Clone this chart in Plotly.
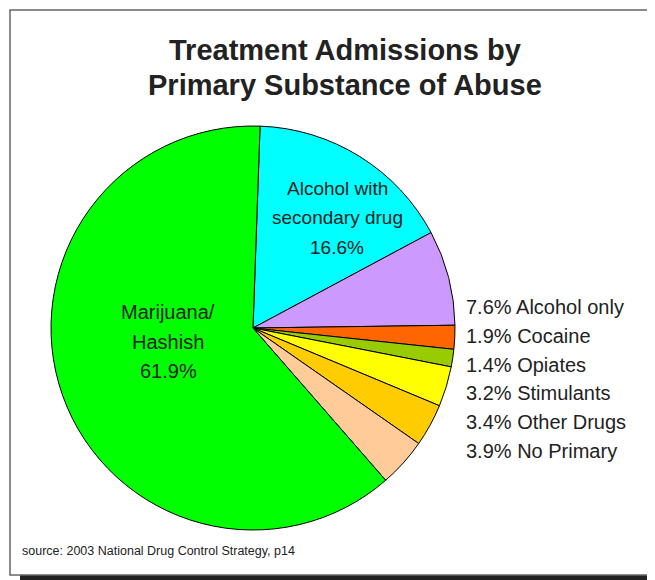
import plotly.graph_objects as go

# slices, clockwise from 12 o'clock
labels = ["Alcohol with secondary drug", "Alcohol only", "Cocaine", "Opiates",
          "Stimulants", "Other Drugs", "No Primary", "Marijuana/Hashish"]
values = [16.6, 7.6, 1.9, 1.4, 3.2, 3.4, 3.9, 61.9]
colors = ["#00FFFF", "#CC99FF", "#FF6600", "#99CC00",
          "#FFFF00", "#FFCC00", "#FFCC99", "#00FF00"]

side_labels = ["7.6% Alcohol only", "1.9% Cocaine", "1.4% Opiates",
               "3.2% Stimulants", "3.4% Other Drugs", "3.9% No Primary"]

# page body has an 8px margin, so the figure is a bit smaller than the window
OFF = 8
W, H = 655 - OFF, 580 - OFF
FONT = "Liberation Sans, Arial, sans-serif"
TXT = "#222222"


def px(x):
    return (x - OFF) / W


def py(y):
    return 1 - (y - OFF) / H


fig = go.Figure(go.Pie(
    labels=labels,
    values=values,
    sort=False,
    direction="clockwise",
    rotation=2,
    marker={"colors": colors, "line": {"color": "black", "width": 1}},
    textinfo="none",
    hoverinfo="label+percent",
    domain={"x": [px(51), px(455)], "y": [py(530), py(126)]},
    showlegend=False,
))

# frame with drop shadow
fig.add_shape(type="rect", xref="paper", yref="paper",
              x0=px(20), x1=1, y0=0, y1=py(20),
              fillcolor="#222222", line_width=0, layer="below")
fig.add_shape(type="rect", xref="paper", yref="paper",
              x0=px(10), x1=px(649), y0=py(575), y1=py(10),
              fillcolor="white", line={"color": "#666666", "width": 1.5},
              layer="below")


def ann(x, y, text, size, xanchor="center", bold=False):
    if bold:
        text = "<b>" + text + "</b>"
    fig.add_annotation(x=px(x), y=py(y), xref="paper", yref="paper",
                       text=text, showarrow=False, xanchor=xanchor,
                       yanchor="middle", align="center",
                       font={"family": FONT, "size": size, "color": TXT})


ann(345, 50, "Treatment Admissions by", 29, bold=True)
ann(345, 85, "Primary Substance of Abuse", 29, bold=True)

for i, line in enumerate(["Alcohol with", "secondary drug", "16.6%"]):
    ann(337, 188 + 29.5 * i, line, 19)
for i, line in enumerate(["Marijuana/", "Hashish", "61.9%"]):
    ann(168, 312 + 29.5 * i, line, 20)

for i, t in enumerate(side_labels):
    ann(464, 307 + 28.8 * i, t, 20, xanchor="left")

ann(20, 551, "source: 2003 National Drug Control Strategy, p14", 12.5, xanchor="left")

fig.update_layout(
    width=W, height=H,
    margin={"l": 0, "r": 0, "t": 0, "b": 0},
    paper_bgcolor="white",
    plot_bgcolor="white",
)

fig.write_html("out.html")
